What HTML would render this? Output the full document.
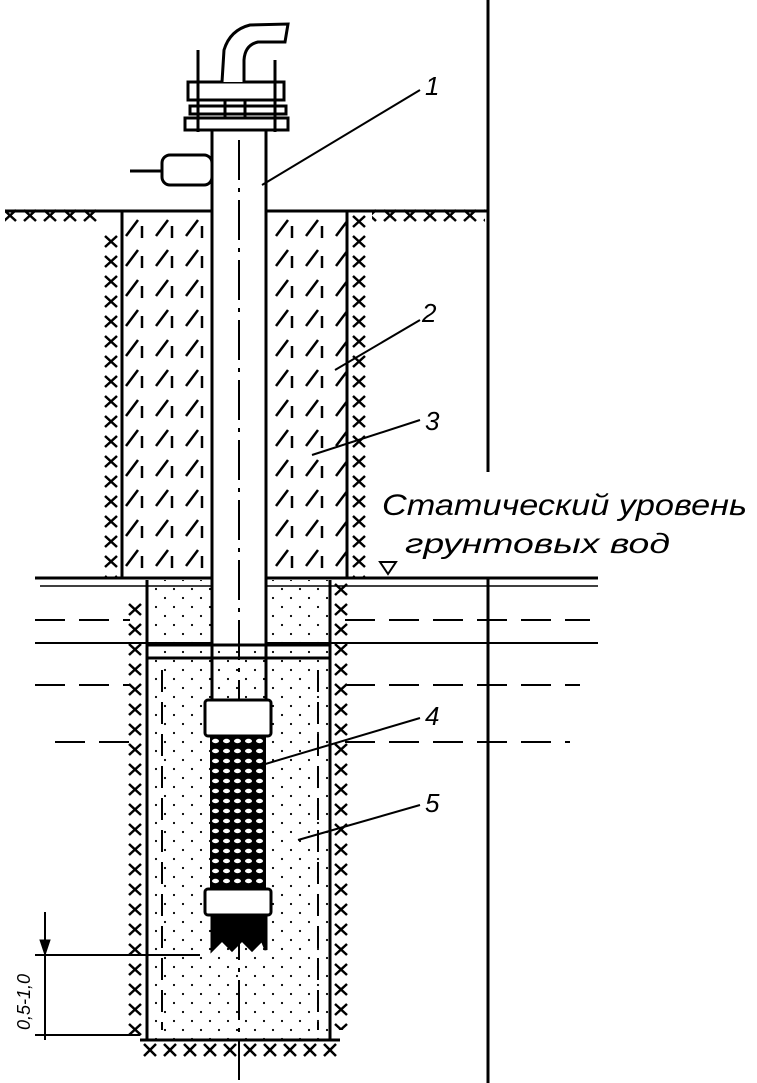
<!DOCTYPE html>
<html><head><meta charset="utf-8"><style>
html,body{margin:0;padding:0;background:#fff;}
svg{display:block;}
text{font-family:"Liberation Sans","DejaVu Sans",sans-serif;font-style:italic;fill:#000;}
</style></head><body>
<svg width="757" height="1083" viewBox="0 0 757 1083" xmlns="http://www.w3.org/2000/svg">
<defs>
<pattern id="diag" x="122" y="212" width="30" height="30" patternUnits="userSpaceOnUse">
<path d="M4 24 L16 8 M20 14 L20 26" stroke="#000" stroke-width="2.5" fill="none"/>
</pattern>
<pattern id="zigA" x="100" y="212" width="22" height="20" patternUnits="userSpaceOnUse">
<path d="M5 4 L17 15 M17 4 L5 15" stroke="#000" stroke-width="2.5" fill="none"/>
</pattern>
<pattern id="zigB" x="348" y="212" width="22" height="20" patternUnits="userSpaceOnUse">
<path d="M5 4 L17 15 M17 4 L5 15" stroke="#000" stroke-width="2.5" fill="none"/>
</pattern>
<pattern id="zigC" x="124" y="580" width="22" height="20" patternUnits="userSpaceOnUse">
<path d="M5 4 L17 15 M17 4 L5 15" stroke="#000" stroke-width="2.5" fill="none"/>
</pattern>
<pattern id="zigD" x="330" y="580" width="22" height="20" patternUnits="userSpaceOnUse">
<path d="M5 4 L17 15 M17 4 L5 15" stroke="#000" stroke-width="2.5" fill="none"/>
</pattern>
<pattern id="zigG" x="0" y="208" width="20" height="16" patternUnits="userSpaceOnUse">
<path d="M4 2 L16 13 M16 2 L4 13" stroke="#000" stroke-width="2.5" fill="none"/>
</pattern>
<pattern id="zigH" x="140" y="1042" width="20" height="18" patternUnits="userSpaceOnUse">
<path d="M4 2 L16 14 M16 2 L4 14" stroke="#000" stroke-width="2.5" fill="none"/>
</pattern>
<pattern id="dots" width="18" height="18" patternUnits="userSpaceOnUse">
<circle cx="3" cy="4" r="1.1" fill="#000"/><circle cx="12" cy="13" r="1.1" fill="#000"/>
</pattern>
<pattern id="mesh" x="210" y="736" width="11" height="10" patternUnits="userSpaceOnUse">
<rect width="11" height="10" fill="#000"/><ellipse cx="5.5" cy="5" rx="3.5" ry="2.2" fill="#fff"/>
</pattern>
</defs>
<g stroke="#000" fill="none" stroke-width="3">
<line x1="488" y1="0" x2="488" y2="472"/>
<line x1="488" y1="578" x2="488" y2="1083"/>
<line x1="5" y1="211" x2="488" y2="211"/>
<rect x="5" y="208" width="98" height="16" fill="url(#zigG)" stroke="none"/>
<rect x="372" y="208" width="113" height="16" fill="url(#zigG)" stroke="none"/>
<rect x="100" y="232" width="22" height="346" fill="url(#zigA)" stroke="none"/>
<rect x="348" y="212" width="22" height="366" fill="url(#zigB)" stroke="none"/>
<rect x="122" y="212" width="226" height="365" fill="url(#diag)" stroke="none"/>
<line x1="122" y1="211" x2="122" y2="578"/>
<line x1="347" y1="211" x2="347" y2="578"/>
<line x1="35" y1="578" x2="598" y2="578" stroke-width="3"/>
<line x1="40" y1="586" x2="598" y2="586" stroke-width="1.5"/>
<line x1="35" y1="620" x2="130" y2="620" stroke-width="2" stroke-dasharray="30 14"/>
<line x1="345" y1="620" x2="590" y2="620" stroke-width="2" stroke-dasharray="30 14"/>
<line x1="35" y1="643" x2="598" y2="643" stroke-width="2"/>
<line x1="35" y1="685" x2="130" y2="685" stroke-width="2" stroke-dasharray="30 14"/>
<line x1="345" y1="685" x2="580" y2="685" stroke-width="2" stroke-dasharray="30 14"/>
<line x1="55" y1="742" x2="130" y2="742" stroke-width="2" stroke-dasharray="30 14"/>
<line x1="345" y1="742" x2="570" y2="742" stroke-width="2" stroke-dasharray="30 14"/>
<polygon points="380,562 396,562 388,574" stroke-width="2"/>
<rect x="147" y="580" width="183" height="460" fill="url(#dots)" stroke="none"/>
<rect x="124" y="600" width="23" height="440" fill="url(#zigC)" stroke="none"/>
<rect x="330" y="580" width="22" height="450" fill="url(#zigD)" stroke="none"/>
<line x1="147" y1="580" x2="147" y2="1040"/>
<line x1="330" y1="580" x2="330" y2="1040"/>
<line x1="147" y1="645" x2="330" y2="645"/>
<line x1="147" y1="658" x2="330" y2="658"/>
<line x1="162" y1="670" x2="162" y2="1030" stroke-width="2" stroke-dasharray="22 10"/>
<line x1="318" y1="670" x2="318" y2="1030" stroke-width="2" stroke-dasharray="22 10"/>
<line x1="140" y1="1040" x2="340" y2="1040"/>
<rect x="140" y="1042" width="200" height="18" fill="url(#zigH)" stroke="none"/>
<rect x="212" y="120" width="54" height="525" fill="#fff"/>
<line x1="239" y1="140" x2="239" y2="1083" stroke-width="2" stroke-dasharray="40 8 4 8"/>
<line x1="212" y1="645" x2="212" y2="700"/>
<line x1="266" y1="645" x2="266" y2="700"/>
<rect x="205" y="700" width="66" height="36" rx="3" fill="#fff"/>
<rect x="210" y="736" width="56" height="155" fill="url(#mesh)" stroke="none"/>
<rect x="205" y="889" width="66" height="26" rx="3" fill="#fff"/>
<path d="M212 915 L212 950 L222 940 L232 950 L242 940 L252 950 L262 940 L266 950 L266 915" fill="#000"/>
<rect x="162" y="155" width="50" height="30" rx="8" fill="#fff"/>
<line x1="130" y1="171" x2="162" y2="171"/>
<rect x="185" y="118" width="103" height="12" fill="#fff"/>
<rect x="190" y="106" width="96" height="8" fill="#fff"/>
<rect x="188" y="82" width="96" height="18" fill="#fff"/>
<line x1="198" y1="50" x2="198" y2="132"/>
<line x1="275" y1="60" x2="275" y2="132"/>
<line x1="225" y1="100" x2="225" y2="118"/>
<line x1="245" y1="100" x2="245" y2="118"/>
<path d="M222 82 L224 50 Q230 30 250 25 L288 24 L285 42 L258 42 Q245 45 244 60 L244 82" fill="#fff"/>
<line x1="262" y1="185" x2="420" y2="90" stroke-width="2"/>
<line x1="335" y1="370" x2="420" y2="320" stroke-width="2"/>
<line x1="312" y1="455" x2="420" y2="420" stroke-width="2"/>
<line x1="262" y1="765" x2="420" y2="718" stroke-width="2"/>
<line x1="298" y1="840" x2="420" y2="805" stroke-width="2"/>
<line x1="45" y1="912" x2="45" y2="1040" stroke-width="2"/>
<line x1="35" y1="955" x2="200" y2="955" stroke-width="2"/>
<line x1="35" y1="1035" x2="140" y2="1035" stroke-width="2"/>
<polygon points="40,940 50,940 45,955" fill="#000" stroke-width="1"/>
</g>
<text x="425" y="95" font-size="26">1</text>
<text x="422" y="322" font-size="26">2</text>
<text x="425" y="430" font-size="26">3</text>
<text x="425" y="725" font-size="26">4</text>
<text x="425" y="812" font-size="26">5</text>
<text x="382" y="515" font-size="30" textLength="365" lengthAdjust="spacingAndGlyphs">Статический уровень</text>
<text x="405" y="553" font-size="28" textLength="265" lengthAdjust="spacingAndGlyphs">грунтовых вод</text>
<text transform="translate(30,1030) rotate(-90)" font-size="18">0,5-1,0</text>
</svg>
</body></html>
